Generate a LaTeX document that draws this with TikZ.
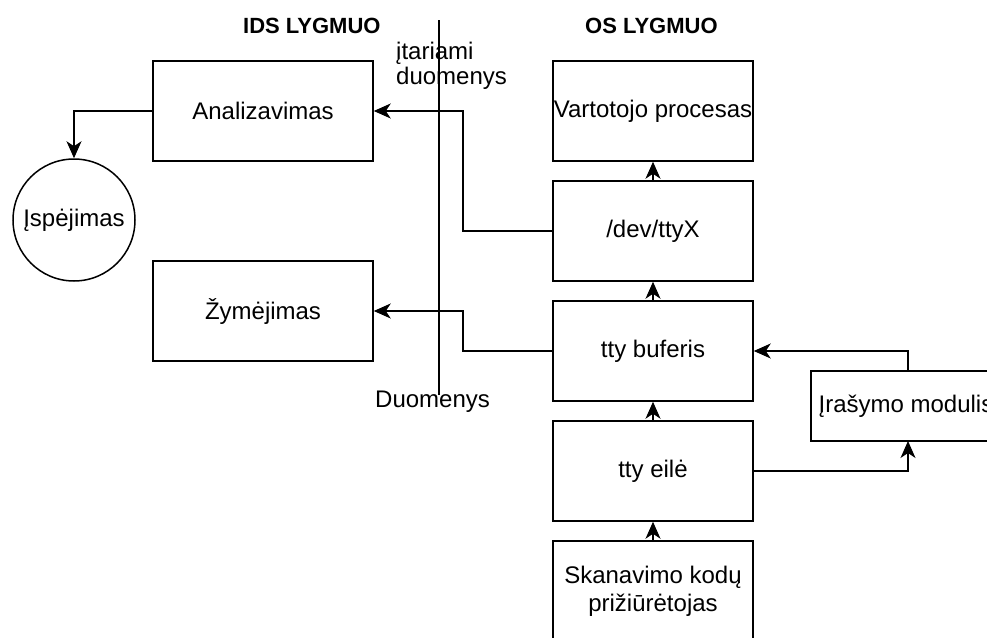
\documentclass[tikz,border=0pt]{standalone}
\usepackage{fontspec}
\setmainfont{Liberation Sans}
\usetikzlibrary{arrows.meta,positioning}
\tikzset{
  box/.style={draw, line width=1.5pt, rectangle, minimum width=200pt, minimum height=100pt, inner sep=0pt, align=center, font=\fontsize{24}{28}\selectfont},
  idsbox/.style={box, minimum width=220pt},
  arr/.style={line width=1.5pt, -{Stealth[length=17pt,width=15pt,inset=5pt]}},
  conn/.style={line width=1.5pt},
  lbl/.style={inner sep=0pt, font=\fontsize{24}{25}\selectfont},
  head/.style={inner sep=0pt, font=\fontsize{22}{24}\selectfont\bfseries},
}
\begin{document}
\begin{tikzpicture}[x=1pt,y=-1pt]
\useasboundingbox (0,0) rectangle (987,637);
\clip (0,0) rectangle (987,637);
% headings
\node[head, anchor=base west] (ids) at (243,33) {IDS LYGMUO};
\node[head, anchor=base west] (os) at (585,33) {OS LYGMUO};
% IDS side
\node[idsbox] (ana) at (263,111) {Analizavimas};
\node[idsbox] (zym) at (263,311) {Žymėjimas};
\node[draw, line width=1.5pt, circle, minimum size=122pt, inner sep=0pt, font=\fontsize{24}{28}\selectfont] (isp) at (74,220) {Įspėjimas};
% OS side
\node[box] (vart) at (653,111) {Vartotojo procesas};
\node[box] (dev) at (653,231) {/dev/ttyX};
\node[box] (buf) at (653,351) {tty buferis};
\node[box] (eil) at (653,471) {tty eilė};
\node[box] (skan) at (653,591) {Skanavimo kodų\\prižiūrėtojas};
\node[box, minimum width=190pt, minimum height=70pt] (iras) at (906,406) {Įrašymo modulis};
% divider
\coordinate (vtop) at (439,20);
\coordinate (vbot) at (439,395);
\draw[conn] (vtop) -- (vbot);
% labels
\node[lbl, anchor=north west, align=left] (itar) at (396,42) {įtariami\\duomenys};
\node[lbl, anchor=base west] (duom) at (375,407) {Duomenys};
% connectors
\draw[arr] (ana.west) -| (isp.north);
\draw[arr] (skan.north) -- (eil.south);
\draw[arr] (eil.north) -- (buf.south);
\draw[arr] (buf.north) -- (dev.south);
\draw[arr] (dev.north) -- (vart.south);
\coordinate (irb) at (908,441);
\coordinate (irt) at (908,371);
\draw[arr] (eil.east) -| (irb);
\draw[arr] (irt) |- (buf.east);
\coordinate (j1) at (463,231);
\coordinate (j2) at (463,111);
\draw[arr] (dev.west) -- (j1) -- (j2) -- (ana.east);
\coordinate (k1) at (463,351);
\coordinate (k2) at (463,311);
\draw[arr] (buf.west) -- (k1) -- (k2) -- (zym.east);
\end{tikzpicture}
\end{document}
